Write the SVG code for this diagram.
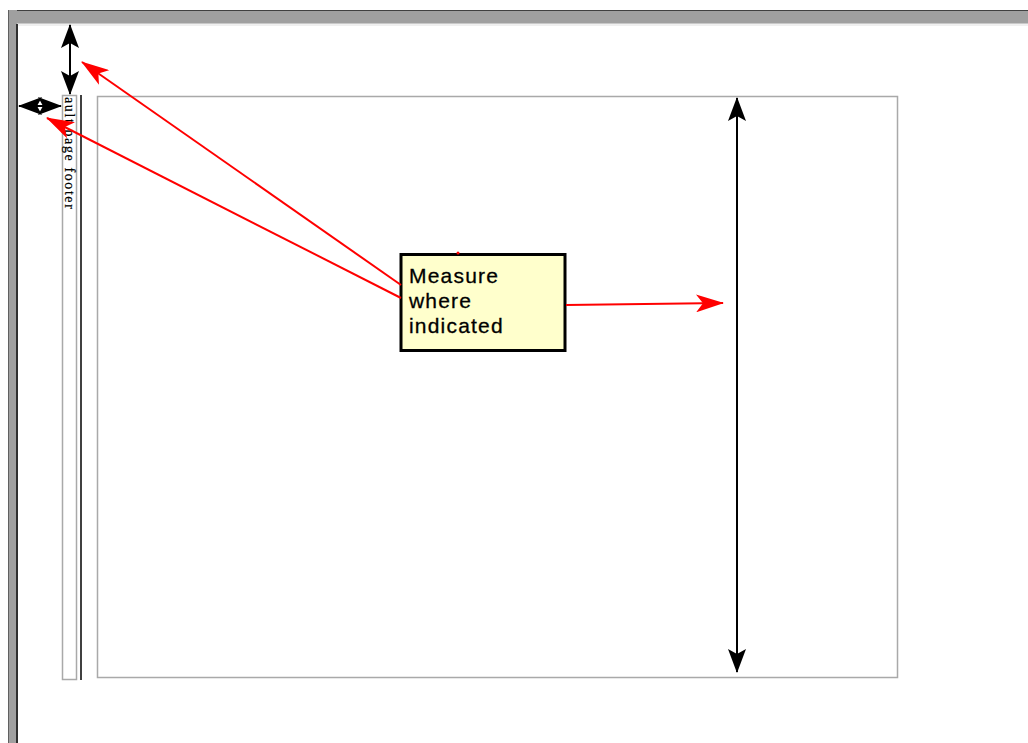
<svg xmlns="http://www.w3.org/2000/svg" width="1028" height="743" viewBox="0 0 1028 743">
<style>
.frame{fill:none;stroke:#a9a9a9}
.blk{stroke:#000;stroke-width:2;fill:none}
.red{stroke:#ff0000;stroke-width:2;fill:none}
.lbl{font-family:"Liberation Sans",Arial,sans-serif;font-size:21px;letter-spacing:1.2px;fill:#000;stroke:#000;stroke-width:0.3}
.foot{font-family:"Liberation Serif","Times New Roman",serif;font-size:14px;letter-spacing:1.6px;fill:#000;stroke:#000;stroke-width:0.2}
</style>
<defs>
<marker id="ah" viewBox="0 0 24 18" refX="23" refY="9" markerWidth="24" markerHeight="18" markerUnits="userSpaceOnUse" orient="auto-start-reverse">
<path d="M0,0 L24,9 L0,18 L5,9 Z" fill="#000"/>
</marker>
<marker id="rh" viewBox="0 0 28 18" refX="27" refY="9" markerWidth="28" markerHeight="18" markerUnits="userSpaceOnUse" orient="auto">
<path d="M0,0 L28,9 L0,18 L7,9 Z" fill="#ff0000"/>
</marker>
</defs>
<rect width="1028" height="743" fill="#fff"/>
<g id="window">
<rect x="8" y="10" width="1020" height="14" fill="#a0a0a0"/>
<line x1="8" y1="10.5" x2="1028" y2="10.5" stroke="#404040"/>
<line x1="17" y1="23.5" x2="1028" y2="23.5" stroke="#c8c8c8"/>
<rect x="8" y="10" width="9" height="733" fill="#a0a0a0"/>
<line x1="8.5" y1="10" x2="8.5" y2="743" stroke="#606060"/>
<line x1="17" y1="24" x2="17" y2="743" stroke="#303030" stroke-width="2"/>
<line x1="18" y1="25" x2="1028" y2="25" stroke="#e0e0e0"/>
</g>
<g id="footer">
<rect x="62.5" y="95.5" width="14" height="584" class="frame" stroke-width="1.5"/>
<text class="foot" transform="translate(65,97) rotate(90)">ault page footer</text>
<line x1="81" y1="95" x2="81" y2="680" stroke="#404040" stroke-width="2"/>
</g>
<g id="page">
<rect x="97.5" y="96.5" width="800" height="581" class="frame" stroke-width="1.5"/>
</g>
<g id="note">
<rect x="401" y="254.5" width="164" height="96" fill="#ffffcc" stroke="#000" stroke-width="3"/>
<text class="lbl" x="409" y="283">Measure</text>
<text class="lbl" x="409" y="308">where</text>
<text class="lbl" x="409" y="333">indicated</text>
</g>
<g id="connectors">
<line x1="737" y1="98" x2="737" y2="672" class="blk" marker-start="url(#ah)" marker-end="url(#ah)"/>
<line x1="70" y1="25" x2="70" y2="94" class="blk" marker-start="url(#ah)" marker-end="url(#ah)"/>
<line x1="19" y1="106" x2="61" y2="106" class="blk" stroke-width="3" marker-start="url(#ah)" marker-end="url(#ah)"/>
<line x1="401" y1="285" x2="82" y2="62" class="red" marker-end="url(#rh)"/>
<line x1="401" y1="298" x2="47" y2="118" class="red" marker-end="url(#rh)"/>
<line x1="566" y1="305" x2="723" y2="303" class="red" marker-end="url(#rh)"/>
<circle cx="458" cy="253" r="1.5" fill="#ff0000"/>
</g>
</svg>
